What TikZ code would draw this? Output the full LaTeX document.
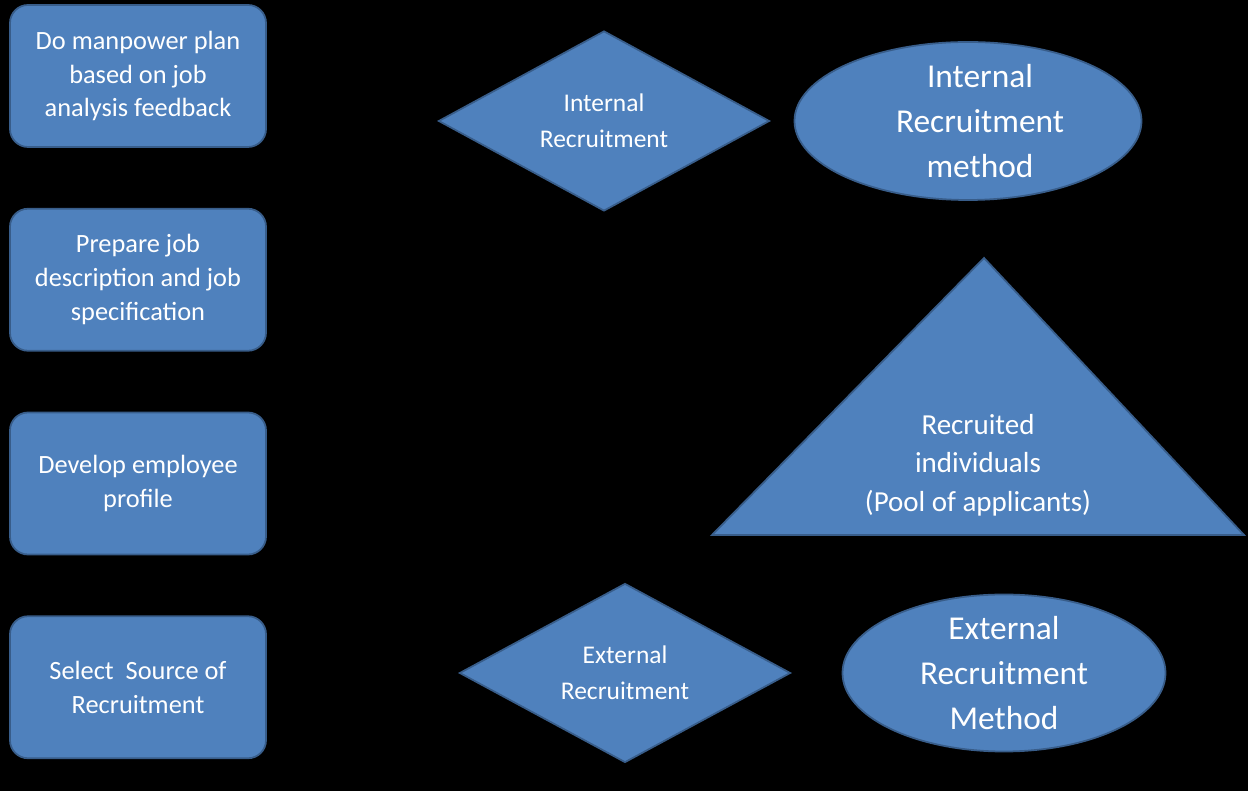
\documentclass[tikz,border=0pt]{standalone}
\usepackage{fontspec}
\setmainfont{Carlito}
\usepackage{tikz}
\usetikzlibrary{shapes,positioning}
\definecolor{stepblue}{RGB}{79,129,189}
\definecolor{stepedge}{RGB}{56,93,138}
\tikzstyle{stepbox} = [rectangle, rounded corners=0.36cm, draw=stepedge, line width=1pt, fill=stepblue, text=white, align=center, minimum width=5.12cm, minimum height=2.84cm, font=\fontsize{15}{19.3}\selectfont]
\tikzstyle{choice} = [diamond, draw=stepedge, line width=1pt, fill=stepblue, text=white, align=center, inner sep=0pt, aspect=1.85, minimum width=6.62cm, minimum height=3.6cm, font=\fontsize{14.5}{20.4}\selectfont]
\tikzstyle{method} = [ellipse, draw=stepedge, line width=1pt, fill=stepblue, inner sep=0pt, minimum width=6.94cm, minimum height=3.16cm]
\tikzstyle{methodtext} = [text=white, align=center, font=\fontsize{19}{25.5}\selectfont]

\begin{document}
\begin{tikzpicture}
% Black page
\fill[black] (0,0) rectangle (24.96,15.82);
\useasboundingbox (0,0) rectangle (24.96,15.82);

% Steps on the left
\node[stepbox] (plan) at (2.76,14.3) {Do manpower plan\\based on job\\analysis feedback};
\node[stepbox, below=1.2cm of plan] (jobdesc) {Prepare job\\description and job\\specification};
\node[stepbox, below=1.2cm of jobdesc] (profile) {Develop employee\\profile};
\node[stepbox, below=1.2cm of profile] (source) {Select\ \ Source of\\Recruitment};

% Internal branch
\node[choice] (internal) at (12.08,13.4) {Internal\\Recruitment};
\node[method, label={[methodtext, xshift=0.24cm]center:{Internal\\Recruitment\\method}}] (intmethod) at (19.36,13.4) {};

% Pool of applicants
\coordinate (apex) at (19.68,10.66);
\coordinate (baseL) at (14.24,5.12);
\coordinate (baseR) at (24.88,5.12);
\fill[stepblue] (baseL) -- (apex) -- (baseR) -- cycle;
\draw[stepedge, line width=1pt] (baseL) -- (apex) -- (baseR) -- cycle;
\node[methodtext, font=\fontsize{16.5}{22}\selectfont] (pool) at (19.56,6.52) {Recruited\\individuals\\(Pool of applicants)};

% External branch
\node[choice, minimum height=3.58cm] (external) at (12.5,2.36) {External\\Recruitment};
\node[method, minimum width=6.46cm, minimum height=3.14cm, label={[methodtext]center:{External\\Recruitment\\Method}}] (extmethod) at (20.08,2.36) {};
\end{tikzpicture}
\end{document}
